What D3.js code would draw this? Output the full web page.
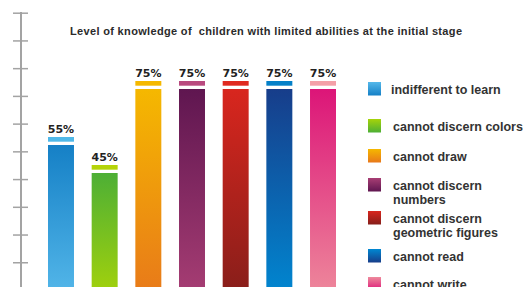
<!DOCTYPE html>
<html>
<head>
<meta charset="utf-8">
<script src="https://cdn.jsdelivr.net/npm/d3@7"></script>
<style>
  body { margin: 0; background: #fff; }
  svg { display: block; }
</style>
</head>
<body>
<div class="container"></div>
<script>
  // chart data
  var categories = ["indifferent to learn", "cannot discern colors", "cannot draw",
    "cannot discern numbers", "cannot discern geometric figures", "cannot read", "cannot write"];
  var values = [55, 45, 75, 75, 75, 75, 75];
  var legendLines = [["indifferent to learn"], ["cannot discern colors"], ["cannot draw"],
    ["cannot discern", "numbers"], ["cannot discern", "geometric figures"], ["cannot read"], ["cannot write"]];
  var axisTicks = [1, 2, 3, 4, 5, 6, 7, 8, 9, 10];
  var title = "Level of knowledge of  children with limited abilities at the initial stage";

  // colours
  var barTop = ["#1580c6", "#4daf35", "#f5b800", "#5f1650", "#d8261e", "#173d8a", "#dc1578"];
  var barBottom = ["#55b8ea", "#a6d30a", "#e8781a", "#a83e74", "#861e1a", "#0088d2", "#ee8a9c"];
  var capColor = ["#4fb8e8", "#b5d40a", "#f5b800", "#b94a7f", "#e02a20", "#0480c8", "#f4a0a8"];
  var swatchFlip = [true, true, false, true, false, true, true];

  // layout
  var w = 526, h = 287;
  var legendTop = [82, 119, 149, 178, 211, 249, 277];

  var svg = d3.select(".container").append("svg").attr("width", w).attr("height", h);
  var defs = svg.append("defs");

  categories.forEach(function(c, i){
    var g = defs.append("linearGradient").attr("id", "bar" + i)
      .attr("x1", 0).attr("y1", 0).attr("x2", 0).attr("y2", 1);
    g.append("stop").attr("offset", "0%").attr("stop-color", barTop[i]);
    g.append("stop").attr("offset", "100%").attr("stop-color", barBottom[i]);

    var s = defs.append("linearGradient").attr("id", "sw" + i)
      .attr("x1", 0).attr("y1", 0).attr("x2", 0).attr("y2", 1);
    s.append("stop").attr("offset", "0%").attr("stop-color", swatchFlip[i] ? barBottom[i] : barTop[i]);
    s.append("stop").attr("offset", "100%").attr("stop-color", swatchFlip[i] ? barTop[i] : barBottom[i]);
  });

  var x = d3.scaleBand().domain(categories).range([48, 336]).paddingInner(0.405).paddingOuter(0);
  var y = d3.scaleLinear().domain([0, 100]).range([299, 19]);
  var yTicks = d3.scaleLinear().domain([0, 10]).range([290, 12.7]);

  // axis
  svg.append("line")
    .attr("x1", 21).attr("x2", 21).attr("y1", 12).attr("y2", h)
    .attr("stroke", "#a3a3a3").attr("stroke-width", 2);

  var axis = svg.append("g").attr("transform", "translate(21,0)")
    .call(d3.axisLeft(yTicks).tickValues(axisTicks).tickFormat(""));
  axis.select(".domain").remove();
  axis.selectAll(".tick line")
    .attr("x1", -8).attr("x2", 7)
    .attr("stroke", "#a3a3a3").attr("stroke-width", 1.5);

  // title
  svg.append("text")
    .attr("x", 266).attr("y", 35)
    .attr("text-anchor", "middle")
    .style("white-space", "pre")
    .attr("font-family", "Liberation Sans, Arial, sans-serif")
    .attr("font-weight", "bold").attr("font-size", 11)
    .attr("textLength", 392).attr("lengthAdjust", "spacing")
    .attr("fill", "#2b2b2b")
    .text(title);

  // bars
  var bars = svg.append("g").selectAll("g").data(values).enter().append("g");

  bars.append("rect")
    .attr("x", function(d, i){ return x(categories[i]); })
    .attr("y", function(d){ return y(d); })
    .attr("width", x.bandwidth())
    .attr("height", function(d){ return y(0) - y(d); })
    .attr("fill", function(d, i){ return "url(#bar" + i + ")"; });

  bars.append("rect")
    .attr("x", function(d, i){ return x(categories[i]); })
    .attr("y", function(d){ return y(d) - 8; })
    .attr("width", x.bandwidth())
    .attr("height", 4.7)
    .attr("fill", function(d, i){ return capColor[i]; });

  bars.append("text")
    .attr("x", function(d, i){ return x(categories[i]) + x.bandwidth() / 2; })
    .attr("y", function(d){ return y(d) - 12; })
    .attr("text-anchor", "middle")
    .attr("font-family", "DejaVu Sans, sans-serif")
    .attr("font-weight", "bold").attr("font-size", 11)
    .attr("fill", "#222")
    .text(function(d){ return d + "%"; });

  // legend
  var legend = svg.append("g").selectAll("g").data(legendLines).enter().append("g")
    .attr("transform", function(d, i){ return "translate(368," + legendTop[i] + ")"; });

  legend.append("rect")
    .attr("width", 13).attr("height", 13.5)
    .attr("fill", function(d, i){ return "url(#sw" + i + ")"; });

  legend.append("text")
    .attr("x", function(d, i){ return i == 0 ? 23 : 25; }).attr("y", 11.5)
    .attr("font-family", "Liberation Sans, Arial, sans-serif")
    .attr("font-weight", "bold").attr("font-size", 12.5)
    .attr("fill", "#333")
    .selectAll("tspan").data(function(d){ return d; }).enter().append("tspan")
    .attr("x", function(){ return this.parentNode.getAttribute("x"); })
    .attr("dy", function(d, j){ return j == 0 ? 0 : 14.7; })
    .text(function(d){ return d; });
</script>
</body>
</html>
